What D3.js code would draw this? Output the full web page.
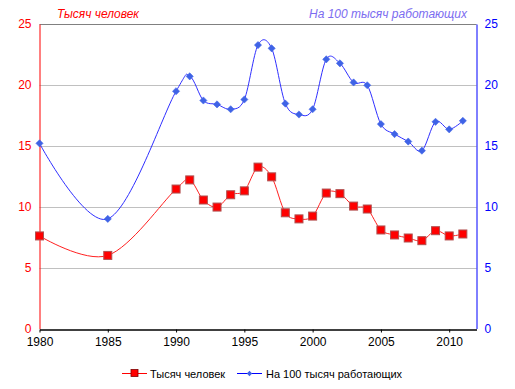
<!DOCTYPE html>
<html>
<head>
<meta charset="utf-8">
<script src="https://cdn.jsdelivr.net/npm/d3@7"></script>
<style>
  body { margin: 0; background: #fff; }
  svg { font-family: "Liberation Sans", Arial, sans-serif; }
</style>
</head>
<body>
<div id="chart"></div>
<script>
// Years on the x axis
const years = [1980, 1985, 1990, 1991, 1992, 1993, 1994, 1995, 1996, 1997, 1998, 1999,
  2000, 2001, 2002, 2003, 2004, 2005, 2006, 2007, 2008, 2009, 2010, 2011];

// Тысяч человек (left axis)
const thousands = [7.6, 6.0, 11.45, 12.2, 10.55, 9.97, 10.98, 11.3, 13.25, 12.45, 9.5, 9.0,
  9.23, 11.12, 11.07, 10.05, 9.81, 8.09, 7.68, 7.43, 7.21, 8.03, 7.6, 7.76];

// На 100 тысяч работающих (right axis)
const per100k = [15.2, 9.0, 19.48, 20.7, 18.72, 18.4, 18.0, 18.8, 23.27, 23.0, 18.47, 17.57,
  18.0, 22.1, 21.77, 20.2, 19.97, 16.78, 15.96, 15.35, 14.6, 16.97, 16.35, 17.05];

const xTicks = [1980, 1985, 1990, 1995, 2000, 2005, 2010];
const yTicks = [0, 5, 10, 15, 20, 25];

const seriesNames = ['Тысяч человек', 'На 100 тысяч работающих'];

const W = 515, H = 389;
const margin = { top: 24, right: 38.5, bottom: 60, left: 39.5 };

const svg = d3.select('#chart').append('svg')
  .attr('width', W)
  .attr('height', H);

const x = d3.scaleLinear().domain([1980, 2012])
  .range([margin.left, W - margin.right]);
const yL = d3.scaleLinear().domain([0, 25])
  .range([H - margin.bottom - 0.5, margin.top]);
const yR = d3.scaleLinear().domain([0, 25])
  .range([H - margin.bottom - 0.5, margin.top]);

// Horizontal gridlines
svg.append('g')
  .selectAll('line')
  .data(yTicks.filter((d) => d > 0))
  .enter()
  .append('line')
  .attr('x1', x(1980))
  .attr('x2', x(2012))
  .attr('y1', (d) => Math.round(yL(d)) + 0.5)
  .attr('y2', (d) => Math.round(yL(d)) + 0.5)
  .attr('stroke', (d) => (d === 25 ? '#808080' : '#c0c0c0'))
  .attr('stroke-width', 1);

// Left axis (red)
const leftAxis = svg.append('g')
  .attr('transform', `translate(${x(1980)},0)`)
  .call(d3.axisLeft(yL).tickValues(yTicks).tickSize(0).tickPadding(8));
leftAxis.select('.domain').attr('stroke', '#ff0000');
leftAxis.selectAll('text')
  .attr('fill', '#ff0000')
  .style('font-size', '12px');

// Right axis (blue)
const rightAxis = svg.append('g')
  .attr('transform', `translate(${x(2012)},0)`)
  .call(d3.axisRight(yR).tickValues(yTicks).tickSize(0).tickPadding(8));
rightAxis.select('.domain').attr('stroke', '#0000ff');
rightAxis.selectAll('text')
  .attr('fill', '#0000ff')
  .style('font-size', '12px');

// Bottom axis
const bottomAxis = svg.append('g')
  .attr('transform', `translate(0,${Math.round(yL(0)) + 0.5})`)
  .call(d3.axisBottom(x).tickValues(xTicks).tickFormat(d3.format('d')).tickSize(3).tickSizeOuter(0).tickPadding(5));
bottomAxis.select('.domain').attr('stroke', '#000').attr('stroke-width', 1.5);
bottomAxis.selectAll('.tick line').attr('stroke', '#000');
bottomAxis.selectAll('text')
  .attr('fill', '#000')
  .style('font-size', '12px');

// Smoothed lines
const curve = d3.curveCardinal.tension(0);

const lineL = d3.line()
  .x((d, i) => x(years[i]))
  .y((d) => yL(d))
  .curve(curve);
const lineR = d3.line()
  .x((d, i) => x(years[i]))
  .y((d) => yR(d))
  .curve(curve);

svg.append('path')
  .datum(per100k)
  .attr('d', lineR)
  .attr('fill', 'none')
  .attr('stroke', '#2f2fff')
  .attr('stroke-width', 1);

svg.append('path')
  .datum(thousands)
  .attr('d', lineL)
  .attr('fill', 'none')
  .attr('stroke', '#ff2020')
  .attr('stroke-width', 1);

// Markers: blue diamonds
const diamond = d3.symbol().type(d3.symbolSquare).size(26);
svg.append('g')
  .selectAll('path')
  .data(per100k)
  .enter()
  .append('path')
  .attr('d', diamond)
  .attr('transform', (d, i) => `translate(${x(years[i])},${yR(d)}) rotate(45)`)
  .attr('fill', '#3f63e6')
  .attr('stroke', '#3f63e6')
  .attr('stroke-width', 0.5);

// Markers: red squares
svg.append('g')
  .selectAll('rect')
  .data(thousands)
  .enter()
  .append('rect')
  .attr('x', (d, i) => x(years[i]) - 4)
  .attr('y', (d) => yL(d) - 4)
  .attr('width', 8)
  .attr('height', 8)
  .attr('fill', '#ff0000')
  .attr('stroke', '#b05050')
  .attr('stroke-width', 1);

// Axis titles
svg.append('text')
  .attr('x', 57)
  .attr('y', 18)
  .attr('fill', '#ff0000')
  .style('font-size', '12px')
  .style('font-style', 'italic')
  .text(seriesNames[0]);

svg.append('text')
  .attr('x', 467)
  .attr('y', 18)
  .attr('text-anchor', 'end')
  .attr('fill', '#7b6cf0')
  .style('font-size', '12px')
  .style('font-style', 'italic')
  .text(seriesNames[1]);

// Legend
const legend = svg.append('g').attr('transform', 'translate(0,373)');

legend.append('line')
  .attr('x1', 122).attr('x2', 147)
  .attr('y1', 0.5).attr('y2', 0.5)
  .attr('stroke', '#ff0000');
legend.append('rect')
  .attr('x', 131).attr('y', -3.5)
  .attr('width', 7).attr('height', 7)
  .attr('fill', '#ff0000')
  .attr('stroke', '#800000')
  .attr('stroke-width', 0.8);
legend.append('text')
  .attr('x', 150).attr('y', 4.5)
  .attr('fill', '#000')
  .style('font-size', '11px')
  .text(seriesNames[0]);

legend.append('line')
  .attr('x1', 237).attr('x2', 262)
  .attr('y1', 0.5).attr('y2', 0.5)
  .attr('stroke', '#0000ff');
legend.append('path')
  .attr('d', d3.symbol().type(d3.symbolSquare).size(14))
  .attr('transform', 'translate(249.5,0.5) rotate(45)')
  .attr('fill', '#3f63e6');
legend.append('text')
  .attr('x', 266).attr('y', 4.5)
  .attr('fill', '#000')
  .style('font-size', '11px')
  .text(seriesNames[1]);
</script>
</body>
</html>
